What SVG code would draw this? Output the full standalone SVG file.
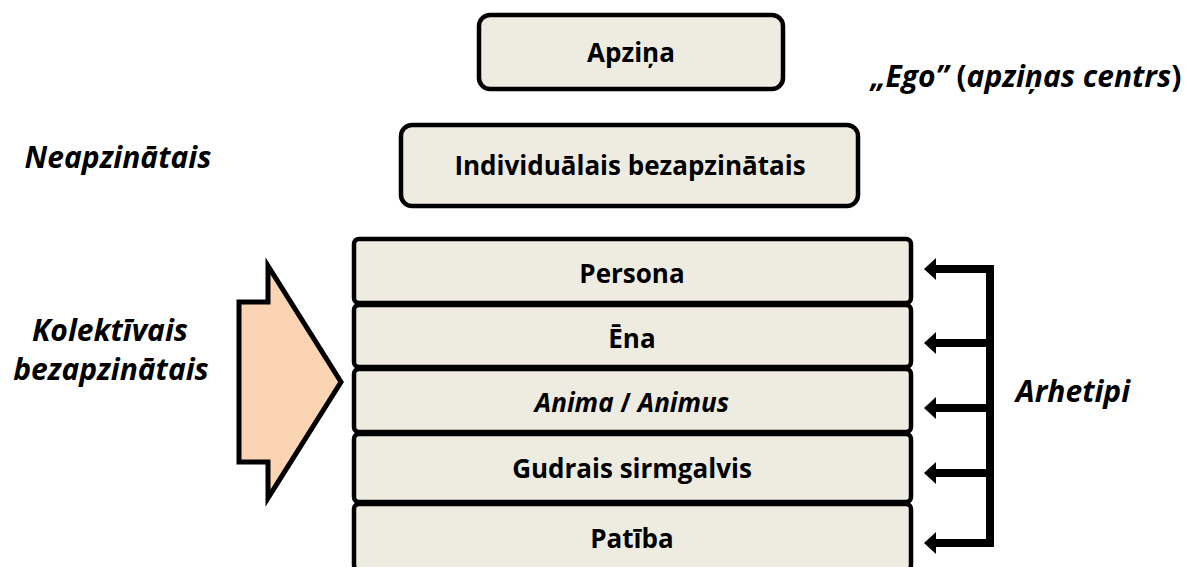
<svg xmlns="http://www.w3.org/2000/svg" width="1188" height="567" viewBox="0 0 1188 567">
<defs>
<style>
.box{fill:#EEECE1;stroke:#000;stroke-width:4.5}
.t{font-family:"Open Sans","Noto Sans",sans-serif;font-weight:bold;font-size:26px;fill:#000;text-anchor:middle}
.i{font-style:italic;font-size:30px}
.n{font-style:normal}
.conn{fill:none;stroke:#000;stroke-width:8}
</style>
<marker id="ah" viewBox="0 0 12 22" refX="1" refY="11" markerWidth="12" markerHeight="22" markerUnits="userSpaceOnUse" orient="auto">
<path d="M0,0 L12,11 L0,22 Z" fill="#000"/>
</marker>
</defs>
<rect width="1188" height="567" fill="#fff"/>
<g id="apzina"><rect class="box" x="479" y="15" width="304" height="74" rx="11"/><text class="t" x="631" y="62">Apziņa</text></g>
<g id="individualais"><rect class="box" x="401" y="125" width="457" height="81" rx="11"/><text class="t" x="630" y="175">Individuālais bezapzinātais</text></g>
<g id="persona"><rect class="box" x="354" y="239" width="557" height="64" rx="5"/><text class="t" x="632" y="283">Persona</text></g>
<g id="ena"><rect class="box" x="354" y="305" width="557" height="62" rx="5"/><text class="t" x="632" y="348">Ēna</text></g>
<g id="anima"><rect class="box" x="354" y="369" width="557" height="63" rx="5"/><text class="t" x="632" y="412"><tspan style="font-style:italic">Anima</tspan> / <tspan style="font-style:italic">Animus</tspan></text></g>
<g id="gudrais"><rect class="box" x="354" y="434" width="557" height="68" rx="5"/><text class="t" x="632" y="478">Gudrais sirmgalvis</text></g>
<g id="patiba"><rect class="box" x="354" y="504" width="557" height="66" rx="5"/><text class="t" x="632" y="548">Patība</text></g>
<g id="kolektivais-arrow"><polygon points="239,302 268,302 268,266 341,382 268,498 268,462 239,462" fill="#FBD4B4" stroke="#000" stroke-width="5" stroke-linejoin="miter"/></g>
<g id="labels">
<text class="t i" x="1026" y="87"><tspan>„Ego”</tspan><tspan class="n"> (</tspan><tspan>apziņas centrs</tspan><tspan class="n">)</tspan></text>
<text class="t i" x="118" y="168">Neapzinātais</text>
<text class="t i" x="110" y="341">Kolektīvais</text>
<text class="t i" x="111" y="380">bezapzinātais</text>
<text class="t i" x="1073" y="402">Arhetipi</text>
</g>
<g id="connectors">
<path class="conn" d="M934,269 H990 V543 H934"/>
<line class="conn" x1="990" y1="269" x2="935" y2="269" marker-end="url(#ah)"/>
<line class="conn" x1="990" y1="343" x2="935" y2="343" marker-end="url(#ah)"/>
<line class="conn" x1="990" y1="408" x2="935" y2="408" marker-end="url(#ah)"/>
<line class="conn" x1="990" y1="473" x2="935" y2="473" marker-end="url(#ah)"/>
<line class="conn" x1="990" y1="543" x2="935" y2="543" marker-end="url(#ah)"/>
</g>
</svg>
